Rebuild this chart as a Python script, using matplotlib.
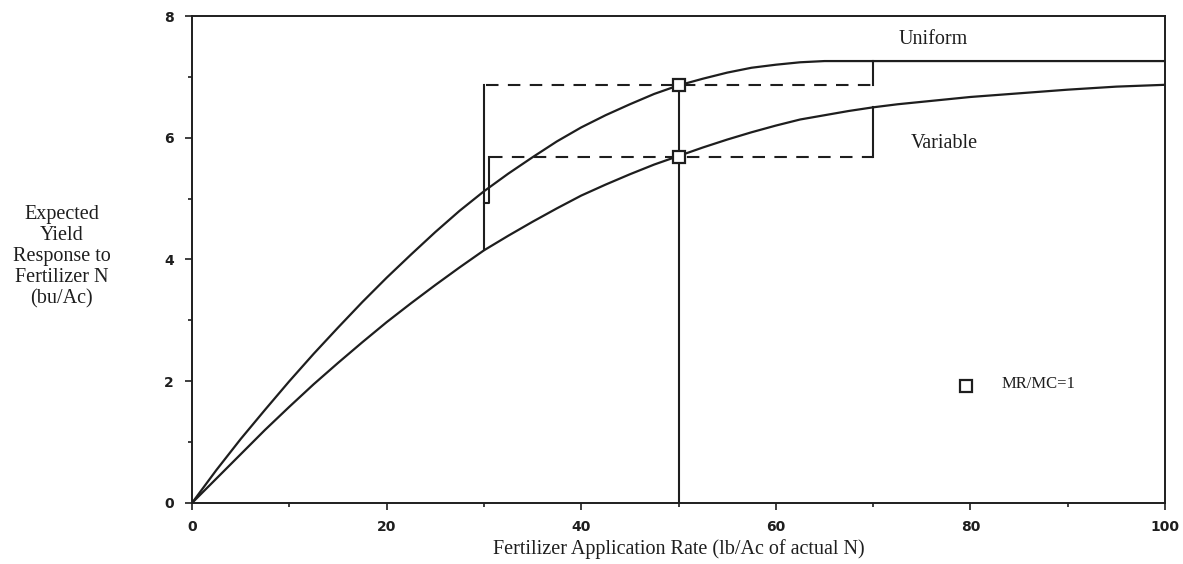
import numpy as np
import matplotlib
matplotlib.use("Agg")
import matplotlib.pyplot as plt
from matplotlib.ticker import MultipleLocator

# N rate (lb/Ac) and expected yield response (bu/Ac)
n_rate = [0, 2.5, 5, 7.5, 10, 12.5, 15, 17.5, 20, 22.5, 25, 27.5, 30, 32.5, 35, 37.5, 40,
          42.5, 45, 47.5, 50, 52.5, 55, 57.5, 60, 62.5, 65, 67.5, 70, 72.5, 75, 80, 85, 90, 95, 100]
uniform = [0, 0.54, 1.05, 1.53, 2.00, 2.45, 2.88, 3.30, 3.70, 4.08, 4.45, 4.80, 5.12, 5.41,
           5.68, 5.94, 6.17, 6.37, 6.55, 6.72, 6.86, 6.97, 7.07, 7.15, 7.20, 7.24, 7.26, 7.26,
           7.26, 7.26, 7.26, 7.26, 7.26, 7.26, 7.26, 7.26]
variable = [0, 0.40, 0.80, 1.20, 1.58, 1.95, 2.30, 2.64, 2.97, 3.28, 3.58, 3.87, 4.15, 4.39,
            4.62, 4.84, 5.05, 5.23, 5.40, 5.56, 5.70, 5.84, 5.97, 6.09, 6.20, 6.30, 6.37, 6.44,
            6.50, 6.55, 6.59, 6.67, 6.73, 6.79, 6.84, 6.87]

# MR/MC=1 points
opt_n = [50, 50]
opt_y = [6.86, 5.68]
step_x = 70
step_top = [7.26, 6.50]

ink = "#1e1e1e"
serif = "Liberation Serif"

fig = plt.figure(figsize=(11.83, 5.64), dpi=100)
ax = fig.add_axes([0.1623, 0.1082, 0.8225, 0.8634])

ax.plot(n_rate, uniform, color=ink, lw=1.6)
ax.plot(n_rate, variable, color=ink, lw=1.6)

# dashed guides at the optimum yields
dash = (0, (6, 4.5))
ax.plot([30.2, step_x], [opt_y[0], opt_y[0]], color=ink, lw=1.5, ls=dash)
ax.plot([30.6, step_x], [opt_y[1], opt_y[1]], color=ink, lw=1.5, ls=dash)

# solid steps
ax.plot([step_x, step_x], [opt_y[0], step_top[0]], color=ink, lw=1.5)
ax.plot([step_x, step_x], [opt_y[1], step_top[1]], color=ink, lw=1.5)
ax.plot([50, 50], [0, opt_y[0]], color=ink, lw=1.5)
ax.plot([30, 30], [4.15, opt_y[0]], color=ink, lw=1.5)
ax.plot([30, 30.5, 30.5], [4.93, 4.93, opt_y[1]], color=ink, lw=1.5)

ax.plot(opt_n, opt_y, ls="none", marker="s", ms=9, mfc="white", mec=ink, mew=1.6, zorder=5)

# legend marker + text
ax.plot([79.5], [1.92], ls="none", marker="s", ms=9, mfc="white", mec=ink, mew=1.6)
ax.text(83.2, 1.95, "MR/MC=1", family=serif, fontsize=12, color=ink, va="center")

ax.text(76.2, 7.62, "Uniform", family=serif, fontsize=14.5, color=ink, ha="center", va="center")
ax.text(77.3, 5.9, "Variable", family=serif, fontsize=14.5, color=ink, ha="center", va="center")

ax.set_xlim(0, 100)
ax.set_ylim(0, 8)
ax.xaxis.set_major_locator(MultipleLocator(20))
ax.xaxis.set_minor_locator(MultipleLocator(10))
ax.yaxis.set_major_locator(MultipleLocator(2))
ax.yaxis.set_minor_locator(MultipleLocator(1))
ax.tick_params(which="major", length=5, width=1.2, color=ink, direction="out")
ax.tick_params(which="minor", length=3, width=1.2, color=ink, direction="out")
ax.tick_params(axis="x", pad=7)
ax.tick_params(axis="y", pad=8)
for lab in ax.get_xticklabels() + ax.get_yticklabels():
    lab.set_fontweight("bold")
    lab.set_fontsize(10)
    lab.set_color(ink)
for s in ax.spines.values():
    s.set_color(ink)
    s.set_linewidth(1.4)

ax.set_xlabel("Fertilizer Application Rate (lb/Ac of actual N)", family=serif,
              fontsize=14.5, color=ink, labelpad=4)
fig.text(0.052, 0.545, "Expected\nYield\nResponse to\nFertilizer N\n(bu/Ac)", family=serif,
         fontsize=14.5, color=ink, ha="center", va="center", multialignment="center",
         linespacing=1.15)

fig.savefig("out.png", dpi=100)
